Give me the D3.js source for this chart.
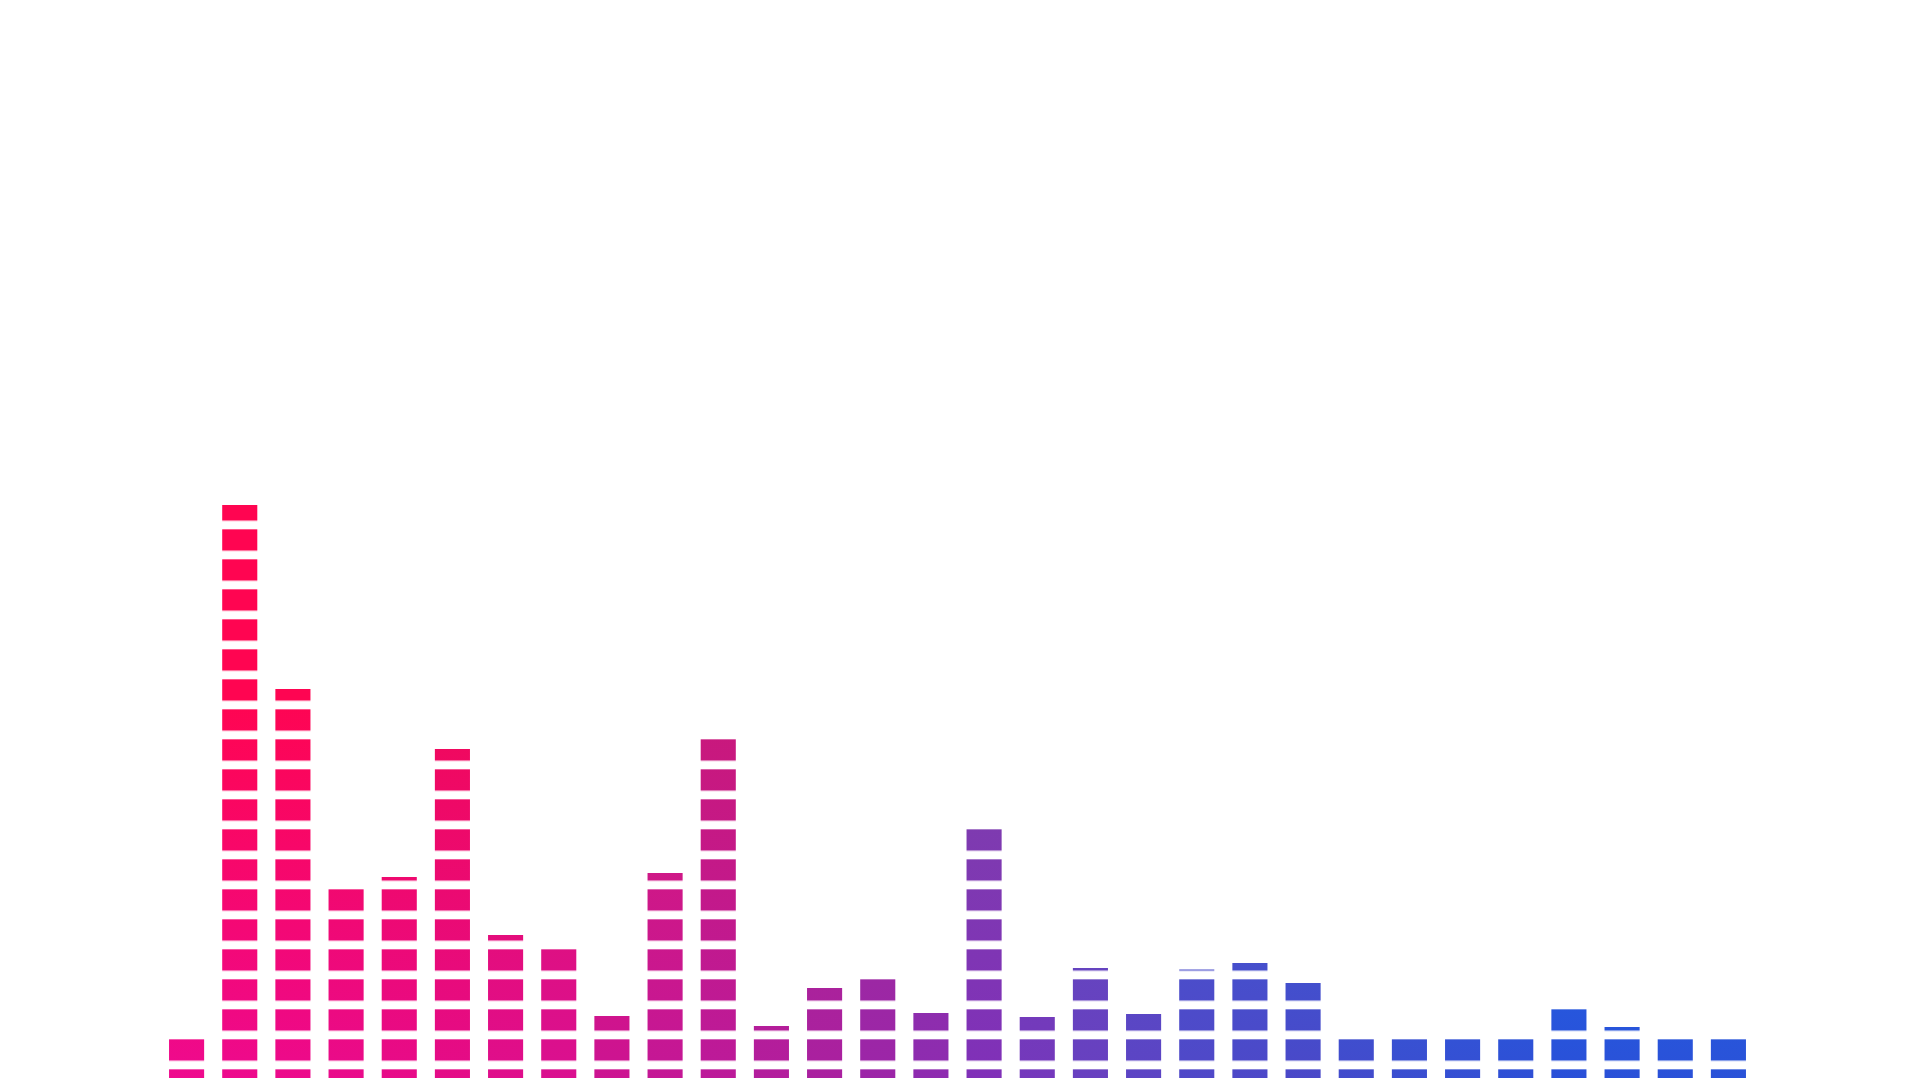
<!DOCTYPE html>
<html>
<head>
<meta charset="utf-8">
<script src="https://cdn.jsdelivr.net/npm/d3@7"></script>
<style>
  body { margin: 0; background: #ffffff; }
  svg { display: block; }
</style>
</head>
<body>
<div id="chart"></div>
<script>
//##### Striped gradient bar chart #####

var categories = [
  "01", "02", "03", "04", "05", "06", "07", "08", "09", "10",
  "11", "12", "13", "14", "15", "16", "17", "18", "19", "20",
  "21", "22", "23", "24", "25", "26", "27", "28", "29", "30"
];
var values = [
  4, 57.3, 38.9, 19, 20.1, 32.9, 14.3, 13, 6.2, 20.5,
  34, 5.2, 9, 10, 6.5, 25, 6.1, 11, 6.4, 10.85,
  11.5, 9.5, 4, 4, 4, 4, 7, 5.1, 4, 4
];
var yTicks = [0, 20, 40, 60, 80, 100];

var width = 1920,
  height = 1080,
  margin = { top: 78, right: 165, bottom: 2, left: 160 },
  stripe = 30, // period of the horizontal bands
  band = 21.33, // visible part of each band
  gradTop = 38, // value where the vertical gradient reaches its top colour
  data = [];

// colour ramps along the bars (at the baseline / at gradTop and above)
var bottomStops = [
  [0, "#ee0a8e"], [2, "#ec0a8c"], [5, "#e40c88"], [7, "#da1090"],
  [8, "#cc1492"], [10, "#bc1a9a"], [12, "#aa20a0"], [15, "#8030b8"],
  [17, "#6840c0"], [19, "#5048c8"], [21, "#4a48c8"], [23, "#3a4ed0"],
  [26, "#2a50d8"], [29, "#2a52d8"]
];
var topStops = [
  [0, "#ff0550"], [2, "#fe0552"], [5, "#f2085a"], [9, "#d8187a"],
  [10, "#ca187a"], [15, "#7d40ac"], [19, "#3e5ad0"], [21, "#2c64dc"],
  [26, "#1870ee"], [29, "#1c6aea"]
];

categories.forEach(function(c, i) {
  data.push({ name: c, value: values[i], index: i });
});

var x = d3
  .scaleBand()
  .domain(categories)
  .range([margin.left, width - margin.right])
  .paddingInner(0.34)
  .paddingOuter(0.17);

var y = d3
  .scaleLinear()
  .domain([yTicks[0], yTicks[yTicks.length - 1]])
  .range([height - margin.bottom, margin.top]);

var bottomColor = d3
  .scaleLinear()
  .domain(bottomStops.map(function(d) { return d[0]; }))
  .range(bottomStops.map(function(d) { return d[1]; }))
  .interpolate(d3.interpolateRgb);

var topColor = d3
  .scaleLinear()
  .domain(topStops.map(function(d) { return d[0]; }))
  .range(topStops.map(function(d) { return d[1]; }))
  .interpolate(d3.interpolateRgb);

var svg = d3
  .select("#chart")
  .append("svg")
  .attr("width", width)
  .attr("height", height);

svg
  .append("rect")
  .attr("width", width)
  .attr("height", height)
  .attr("fill", "#ffffff");

var defs = svg.append("defs");

// one vertical gradient per bar, all sharing the same y span
defs
  .selectAll("linearGradient")
  .data(data)
  .enter()
  .append("linearGradient")
  .attr("id", function(d) { return "grad-" + d.index; })
  .attr("gradientUnits", "userSpaceOnUse")
  .attr("x1", 0)
  .attr("x2", 0)
  .attr("y1", y(0))
  .attr("y2", y(gradTop))
  .each(function(d) {
    var g = d3.select(this);
    g.append("stop").attr("offset", 0).attr("stop-color", bottomColor(d.index));
    g.append("stop").attr("offset", 1).attr("stop-color", topColor(d.index));
  });

// horizontal bands, anchored on the baseline
var pattern = defs
  .append("pattern")
  .attr("id", "bands")
  .attr("patternUnits", "userSpaceOnUse")
  .attr("x", 0)
  .attr("y", y(0) - (stripe - band))
  .attr("width", width)
  .attr("height", stripe);
pattern
  .append("rect")
  .attr("width", width)
  .attr("height", band)
  .attr("fill", "#ffffff");

defs
  .append("mask")
  .attr("id", "band-mask")
  .attr("maskUnits", "userSpaceOnUse")
  .attr("x", 0)
  .attr("y", 0)
  .attr("width", width)
  .attr("height", height)
  .append("rect")
  .attr("width", width)
  .attr("height", height)
  .attr("fill", "url(#bands)");

svg
  .append("g")
  .attr("class", "bars")
  .attr("mask", "url(#band-mask)")
  .selectAll("rect")
  .data(data)
  .enter()
  .append("rect")
  .attr("x", function(d) { return x(d.name); })
  .attr("y", function(d) { return y(d.value); })
  .attr("width", x.bandwidth())
  .attr("height", function(d) { return y(0) - y(d.value); })
  .attr("fill", function(d) { return "url(#grad-" + d.index + ")"; })
  .append("title")
  .text(function(d) { return d.name + " | " + d.value; });
</script>
</body>
</html>
